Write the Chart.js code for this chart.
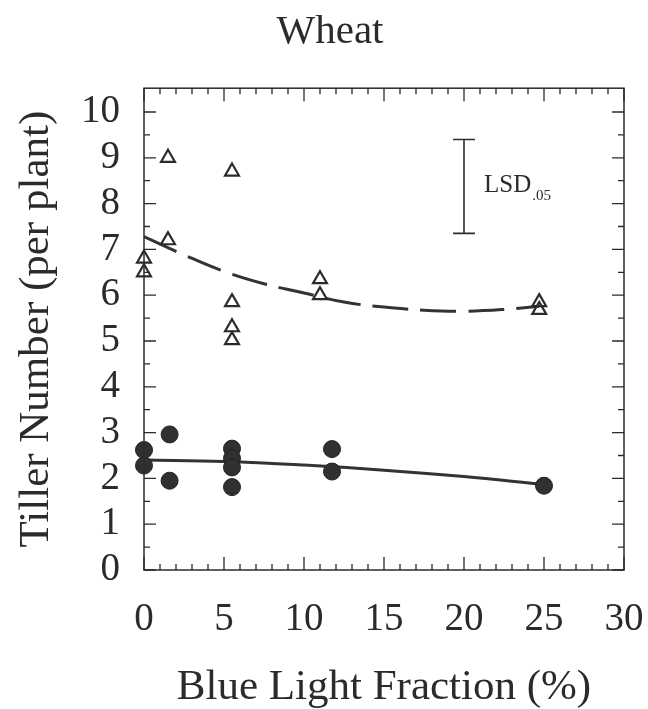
<!DOCTYPE html>
<html lang="en">
<head>
<meta charset="UTF-8">
<title>Wheat - Tiller Number</title>
<script src="https://cdn.jsdelivr.net/npm/chart.js"></script>
<style>
    body { margin: 0; background: #ffffff; }
    #wrap { width: 648px; height: 709px; position: relative; }
</style>
</head>
<body>
<div id="wrap"><canvas id="tillerChart"></canvas></div>
<script>
    // data
    const openX = [0, 0, 1.5, 1.5, 5.5, 5.5, 5.5, 5.5, 11, 11, 24.7, 24.7];
    const openY = [6.8, 6.5, 9.0, 7.2, 8.7, 5.85, 5.3, 5.02, 6.35, 6.0, 5.85, 5.68];

    const filledX = [0, 0, 1.6, 1.6, 5.5, 5.5, 5.5, 5.5, 11.75, 11.75, 25];
    const filledY = [2.62, 2.28, 2.96, 1.95, 2.65, 2.44, 2.24, 1.81, 2.64, 2.15, 1.84];

    const solidFitX = [0, 5, 10, 15, 20, 24.7];
    const solidFitY = [2.4, 2.37, 2.29, 2.18, 2.04, 1.88];

    const dashFitX = [0, 2.5, 5, 7.5, 10, 12.5, 15, 17.5, 20, 22.5, 24.7];
    const dashFitY = [7.28, 6.88, 6.52, 6.25, 6.05, 5.85, 5.74, 5.67, 5.65, 5.69, 5.76];

    const xTicks = [0, 5, 10, 15, 20, 25, 30];
    const yTicks = [0, 1, 2, 3, 4, 5, 6, 7, 8, 9, 10];

    const lsdX = 20;
    const lsdLow = 7.35;
    const lsdHigh = 9.4;

    const ink = '#2b2b2b';
    const serif = "'Liberation Serif', 'Times New Roman', serif";

    function pairs(xs, ys) {
        return xs.map((x, i) => ({ x: x, y: ys[i] }));
    }

    // frame with inward ticks on all four sides, plus the LSD bar
    const framePlugin = {
        id: 'frame',
        afterDatasetsDraw(chart) {
            const ctx = chart.ctx;
            const a = chart.chartArea;
            const xs = chart.scales.x;
            const ys = chart.scales.y;
            ctx.save();
            ctx.strokeStyle = ink;
            ctx.lineWidth = 1.5;
            ctx.strokeRect(a.left, a.top, a.right - a.left, a.bottom - a.top);

            ctx.lineWidth = 1.3;
            ctx.beginPath();
            for (let v = 0; v <= 30; v++) {
                const px = xs.getPixelForValue(v);
                const len = v % 5 === 0 ? 13 : 6;
                ctx.moveTo(px, a.bottom); ctx.lineTo(px, a.bottom - len);
                ctx.moveTo(px, a.top); ctx.lineTo(px, a.top + len);
            }
            for (let v = 0; v <= 10; v += 0.5) {
                const py = ys.getPixelForValue(v);
                const len = v % 1 === 0 ? 12 : 6;
                ctx.moveTo(a.left, py); ctx.lineTo(a.left + len, py);
                ctx.moveTo(a.right, py); ctx.lineTo(a.right - len, py);
            }
            ctx.stroke();

            // LSD.05 bar
            const bx = xs.getPixelForValue(lsdX);
            const top = ys.getPixelForValue(lsdHigh);
            const bot = ys.getPixelForValue(lsdLow);
            ctx.lineWidth = 1.6;
            ctx.beginPath();
            ctx.moveTo(bx, top); ctx.lineTo(bx, bot);
            ctx.moveTo(bx - 11, top); ctx.lineTo(bx + 11, top);
            ctx.moveTo(bx - 11, bot); ctx.lineTo(bx + 11, bot);
            ctx.stroke();

            const mid = (top + bot) / 2;
            ctx.fillStyle = ink;
            ctx.textBaseline = 'alphabetic';
            ctx.textAlign = 'left';
            ctx.font = '25px ' + serif;
            ctx.fillText('LSD', bx + 20, mid + 6);
            const w = ctx.measureText('LSD').width;
            ctx.font = '15px ' + serif;
            ctx.fillText('.05', bx + 20 + w + 1, mid + 14);
            ctx.restore();
        }
    };

    const ctx = document.getElementById('tillerChart').getContext('2d');
    new Chart(ctx, {
        type: 'scatter',
        data: {
            datasets: [
                {
                    label: 'open',
                    data: pairs(openX, openY),
                    pointStyle: 'triangle',
                    pointRadius: 8,
                    pointBorderWidth: 2.2,
                    pointBorderColor: ink,
                    pointBackgroundColor: 'rgba(255,255,255,0)',
                    clip: false
                },
                {
                    label: 'filled',
                    data: pairs(filledX, filledY),
                    pointStyle: 'circle',
                    pointRadius: 8.5,
                    pointBorderWidth: 1,
                    pointBorderColor: '#222',
                    pointBackgroundColor: '#303030',
                    clip: false
                },
                {
                    type: 'line',
                    label: 'solid fit',
                    data: pairs(solidFitX, solidFitY),
                    borderColor: '#333',
                    borderWidth: 3,
                    pointRadius: 0,
                    tension: 0.4,
                    fill: false
                },
                {
                    type: 'line',
                    label: 'dashed fit',
                    data: pairs(dashFitX, dashFitY),
                    borderColor: '#333',
                    borderWidth: 3,
                    borderDash: [36, 12],
                    pointRadius: 0,
                    tension: 0.4,
                    fill: false
                }
            ]
        },
        options: {
            responsive: true,
            maintainAspectRatio: false,
            animation: false,
            layout: { padding: { top: 0, right: 24, bottom: 0, left: 36 } },
            plugins: {
                legend: { display: false },
                tooltip: { enabled: false },
                title: {
                    display: true,
                    text: 'Wheat',
                    color: ink,
                    font: { family: serif, size: 41, weight: 'normal', lineHeight: 1.2 },
                    padding: { top: 8, bottom: 31 }
                }
            },
            scales: {
                x: {
                    type: 'linear',
                    position: 'bottom',
                    min: 0,
                    max: 30,
                    afterBuildTicks: (s) => { s.ticks = xTicks.map(v => ({ value: v })); },
                    afterFit: (s) => { s.height = 139; s.paddingLeft = 0; s.paddingRight = 0; },
                    grid: { display: false, drawTicks: false },
                    border: { display: false },
                    ticks: {
                        color: ink,
                        padding: 26,
                        maxRotation: 0,
                        autoSkip: false,
                        font: { family: serif, size: 39 }
                    },
                    title: {
                        display: true,
                        text: 'Blue Light Fraction (%)',
                        color: ink,
                        font: { family: serif, size: 43, lineHeight: 1 },
                        padding: 0
                    }
                },
                y: {
                    type: 'linear',
                    min: 0,
                    max: 10.52,
                    afterBuildTicks: (s) => { s.ticks = yTicks.map(v => ({ value: v })); },
                    afterFit: (s) => { s.width = 108; s.paddingTop = 0; s.paddingBottom = 0; },
                    grid: { display: false, drawTicks: false },
                    border: { display: false },
                    ticks: {
                        color: ink,
                        padding: 24,
                        autoSkip: false,
                        font: { family: serif, size: 39 }
                    },
                    title: {
                        display: true,
                        text: 'Tiller Number (per plant)',
                        color: ink,
                        font: { family: serif, size: 43, lineHeight: 1 },
                        padding: { top: -21, bottom: 0 }
                    }
                }
            }
        },
        plugins: [framePlugin]
    });
</script>
</body>
</html>
